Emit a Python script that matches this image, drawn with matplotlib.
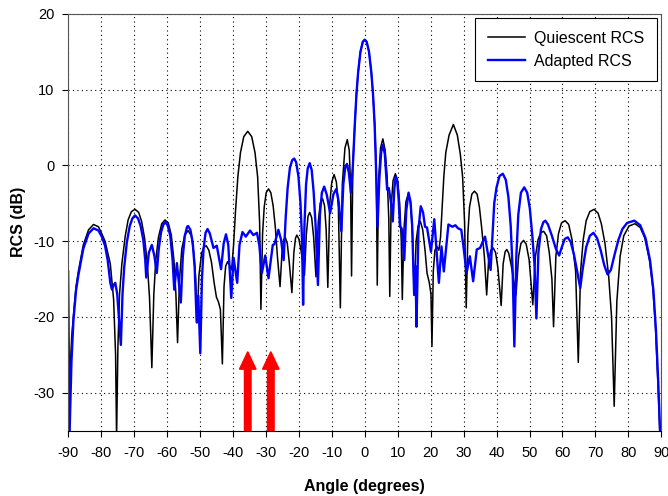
import matplotlib
matplotlib.use('Agg')
import matplotlib.pyplot as plt

plt.rcParams['font.family'] = ['Liberation Sans', 'DejaVu Sans']
plt.rcParams['axes.unicode_minus'] = False

# Quiescent RCS, (angle in degrees, dB)
quiescent = [
    (-90.0, -36), (-89.5, -28), (-88.9, -22.5), (-88.4, -19.9), (-87.6, -16), (-86.9, -14.0),
    (-85.4, -10.5), (-83.8, -8.5), (-82.3, -7.8), (-80.8, -8.1), (-79.8, -9.0), (-78.8, -10.0),
    (-77.2, -13.0), (-76.2, -17.7), (-75.6, -25.0), (-75.3, -36.0),
    (-74.9, -24), (-74.4, -17), (-73.7, -13.0), (-72.7, -9.4), (-71.8, -7.2), (-70.8, -6.1),
    (-69.7, -5.8), (-68.6, -6.2), (-67.7, -7.4), (-66.8, -9.6), (-66.0, -12.8), (-65.3, -17.5),
    (-64.6, -26.7),
    (-64.0, -17), (-63.4, -12.5), (-62.6, -9.5), (-61.6, -7.7), (-60.6, -7.2), (-59.6, -7.6),
    (-58.7, -9.2), (-57.9, -12.5), (-57.3, -17), (-56.8, -23.4),
    (-56.2, -15), (-55.5, -11), (-54.6, -9.2), (-53.6, -8.6), (-52.6, -9.3), (-51.8, -11.8),
    (-51.3, -15), (-50.9, -20.8),
    (-50.3, -14.5), (-49.5, -11.6), (-48.8, -10.8), (-48.1, -10.6), (-47.3, -11.2), (-46.5, -12.8),
    (-45.7, -15.5), (-45.0, -17.4), (-44.4, -18.0), (-43.8, -19.0), (-43.2, -26.2),
    (-42.7, -16), (-42.2, -13.3), (-41.6, -12.7), (-41.0, -13.2), (-40.4, -13.8), (-39.8, -10.5),
    (-39.2, -6.0), (-38.5, -1.5), (-37.7, 1.7), (-36.7, 3.8), (-35.5, 4.5), (-34.3, 3.8),
    (-33.3, 1.7), (-32.5, -1.5), (-31.9, -7.5), (-31.5, -19.0),
    (-31.0, -9), (-30.5, -5.5), (-29.9, -3.6), (-29.2, -3.1), (-28.5, -3.6), (-27.8, -5.3),
    (-27.1, -8.3), (-26.5, -12.0), (-25.7, -16.0),
    (-25.1, -11.5), (-24.6, -9.8), (-24.1, -9.5), (-23.5, -10.3), (-22.9, -12.8), (-22.1, -16.8),
    (-21.5, -11.5), (-21.0, -9.6), (-20.6, -9.2), (-20.0, -9.7), (-19.3, -11.3), (-18.3, -14.5),
    (-17.7, -9), (-17.2, -6.7), (-16.7, -6.2), (-16.1, -6.9), (-15.5, -9.5), (-14.8, -14.7),
    (-14.1, -7.5), (-13.5, -5.0), (-12.8, -4.4), (-12.2, -5.3), (-11.7, -8.5), (-11.2, -16.1),
    (-10.6, -5), (-10.0, -2.2), (-9.3, -1.2), (-8.6, -2.2), (-8.0, -5.5), (-7.4, -18.8),
    (-6.8, -2.5), (-6.0, 2.3), (-5.3, 3.4), (-4.7, 2.0), (-4.3, -2.5), (-4.0, -14.6),
    (-3.6, 0.0), (-3.0, 5.5), (-2.5, 9.5), (-2.0, 12.3), (-1.3, 15.0), (-0.6, 16.3), (0.0, 16.6),
    (0.6, 16.3), (1.3, 15.0), (2.0, 12.3), (2.5, 9.5), (3.0, 5.5), (3.5, 0.0), (3.8, -15.8),
    (4.2, -2), (4.8, 2.3), (5.5, 3.5), (6.2, 2.0), (6.8, -1.5), (7.3, -7), (7.6, -17.3),
    (8.0, -5.5), (8.6, -2.0), (9.3, -1.1), (10.0, -2.0), (10.6, -5), (11.1, -10), (11.4, -17.7),
    (11.9, -8.5), (12.5, -4.8), (13.2, -3.8), (13.9, -5.0), (14.5, -9), (15.0, -17.1),
    (15.6, -10), (16.2, -8), (16.9, -7.4), (17.6, -8.5), (18.3, -11.2), (18.9, -14.2),
    (19.6, -15.5), (20.1, -17), (20.4, -23.9),
    (20.8, -14), (21.3, -11.2), (21.9, -10.7), (22.5, -11.2), (23.0, -9.5), (23.5, -5.5),
    (24.0, -1.5), (24.6, 1.7), (25.6, 4.0), (26.9, 5.4), (28.1, 4.0), (29.0, 1.5), (29.7, -1.5),
    (30.3, -7.5), (30.8, -18.8),
    (31.3, -9), (31.8, -5.5), (32.5, -3.8), (33.3, -3.4), (34.1, -3.8), (34.8, -5.5),
    (35.5, -8.3), (36.3, -12), (37.0, -17.1),
    (37.6, -12.5), (38.3, -11.2), (39.0, -10.9), (39.7, -11.5), (40.4, -13.5), (41.4, -18.5),
    (42.0, -13), (42.6, -11.4), (43.1, -11.1), (43.7, -11.6), (44.5, -13.3), (45.9, -17.1),
    (46.7, -12.0), (47.4, -10.3), (48.2, -9.9), (49.0, -10.4), (49.9, -12.5), (51.0, -18.4),
    (51.8, -12.0), (52.6, -9.8), (53.4, -8.9), (54.3, -8.7), (55.2, -9.3), (56.0, -11.5),
    (56.8, -15), (57.3, -21.3),
    (58.0, -12), (58.8, -9), (59.7, -7.6), (60.8, -7.3), (61.9, -7.8), (62.9, -9.8),
    (64.0, -14), (64.8, -26.0),
    (65.5, -14), (66.3, -9.8), (67.2, -7.3), (68.3, -6.1), (69.6, -5.8), (70.8, -6.3),
    (71.8, -7.7), (72.9, -10.3), (74.0, -14.5), (74.9, -20), (75.7, -31.8),
    (76.5, -18), (77.5, -12), (78.6, -9.3), (80.2, -8.0), (82.0, -7.7), (83.6, -8.2),
    (85.0, -9.6), (86.4, -12.5), (87.4, -16.0), (88.2, -21), (89.0, -29), (89.6, -36),
]

# Adapted RCS, (angle in degrees, dB)
adapted = [
    (-90.0, -14.0), (-89.6, -36.0), (-89.0, -26), (-88.4, -20.5), (-87.6, -16.5), (-86.9, -14.5),
    (-85.4, -11.0), (-83.8, -9.0), (-82.3, -8.3), (-80.8, -8.6), (-79.8, -9.4), (-78.8, -10.6),
    (-78.0, -12.5), (-77.2, -15.5), (-76.7, -16.4), (-76.2, -15.8), (-75.7, -15.5), (-75.1, -17),
    (-74.0, -23.7),
    (-73.5, -17), (-73.0, -13.5), (-72.2, -10.2), (-71.3, -8.0), (-70.5, -7.0), (-69.7, -6.6),
    (-68.8, -7.0), (-68.0, -8.0), (-67.2, -9.8), (-66.6, -12.5), (-66.3, -14.8),
    (-65.5, -11.5), (-64.6, -10.5), (-63.8, -12), (-63.1, -14.2),
    (-62.5, -11), (-61.8, -8.8), (-61.1, -7.8), (-60.5, -7.5), (-59.8, -7.9), (-59.0, -9.3),
    (-58.3, -12.5), (-57.8, -16.4), (-57.0, -12.9), (-55.8, -18.1),
    (-55.2, -12), (-54.6, -9.3), (-53.9, -8.1), (-53.6, -8.0), (-52.9, -8.5), (-52.2, -10.2),
    (-51.6, -13.5), (-51.0, -20.7), (-50.5, -17.2), (-49.9, -24.8),
    (-49.4, -15), (-48.9, -11), (-48.3, -8.9), (-47.7, -8.4), (-47.0, -9.0), (-45.9, -10.9),
    (-44.9, -10.6), (-43.6, -13.7), (-42.8, -10.3), (-42.1, -9.1), (-41.4, -10.5), (-40.5, -17.5),
    (-39.8, -12.2), (-38.7, -15.5), (-38.0, -10.5), (-37.1, -8.8), (-36.1, -9.4), (-34.8, -8.6),
    (-33.8, -9.2), (-32.7, -8.9), (-32.0, -10.5), (-31.2, -14.2), (-30.2, -11.9), (-29.2, -14.9),
    (-27.9, -10.5), (-27.4, -10.4), (-26.2, -8.5), (-25.4, -9.8), (-24.6, -12.5),
    (-24.0, -7), (-23.4, -3), (-22.7, -0.3), (-22.0, 0.7), (-21.4, 0.9), (-20.8, 0.4),
    (-20.1, -1.5), (-19.5, -5), (-19.0, -10), (-18.7, -18.4),
    (-18.3, -8), (-17.8, -2.5), (-17.3, -0.4), (-16.7, 0.3), (-16.1, -0.6), (-15.5, -3.5),
    (-14.9, -8), (-14.2, -15.8),
    (-13.6, -6.5), (-13.0, -3.6), (-12.3, -2.8), (-11.5, -3.9), (-10.5, -6.3), (-9.5, -3.8),
    (-8.6, -3.1), (-7.9, -4.8), (-7.1, -8.7), (-6.5, -2.5), (-5.9, -0.2), (-5.4, 0.2),
    (-4.8, -1.0), (-4.2, -3.6),
    (-3.6, 0.0), (-3.0, 5.5), (-2.5, 9.5), (-2.0, 12.3), (-1.3, 15.0), (-0.6, 16.3), (0.0, 16.6),
    (0.6, 16.3), (1.3, 15.0), (2.0, 12.3), (2.5, 9.5), (3.0, 5.5), (3.4, 0), (3.9, -8.1),
    (4.4, -2), (5.0, 1.8), (5.5, 2.7), (6.1, 1.5), (6.8, -3.2), (7.3, -3.0), (8.0, -5),
    (8.5, -7.4), (9.0, -3), (9.4, -1.5), (9.9, -2.3), (10.3, -4.5), (10.7, -8.1), (11.2, -8.3),
    (12.0, -12.5), (12.6, -6), (13.3, -3.6), (13.9, -4.8), (14.4, -8), (15.0, -17.1),
    (15.4, -13.3), (15.7, -21.3),
    (16.3, -8.5), (17.0, -5.4), (17.7, -6.2), (18.3, -8.1), (18.9, -8.2), (20.1, -11.4),
    (21.1, -7.1), (22.5, -15.5), (23.3, -10.7), (24.0, -14.0), (25.4, -7.8), (26.6, -8.1),
    (27.5, -7.9), (28.3, -8.3), (29.3, -8.5), (29.9, -10.5), (30.9, -14.2), (31.9, -12.0),
    (32.9, -15.3), (34.0, -11.1), (35.0, -10.9), (36.5, -9.4), (38.2, -13.8),
    (39.3, -5.0), (40.0, -2.9), (40.9, -1.4), (41.9, -1.1), (42.8, -1.9), (43.6, -4.2),
    (44.3, -8), (44.9, -14), (45.4, -23.9),
    (46.0, -12), (46.6, -6.5), (47.4, -3.6), (48.4, -2.9), (49.3, -3.6), (50.1, -5.7),
    (50.9, -9.5), (51.5, -13), (52.1, -20.2),
    (52.7, -11.5), (53.5, -8.4), (54.2, -7.5), (54.8, -7.3), (55.6, -7.8), (56.8, -9.3),
    (58.0, -11), (59.0, -11.9), (59.8, -10.8), (60.7, -9.7), (61.6, -9.5), (62.5, -10.1),
    (63.5, -11.8), (64.6, -14.3), (65.4, -16.2),
    (66.2, -13.5), (67.2, -10.8), (68.3, -9.3), (69.4, -8.9), (70.5, -9.6), (71.6, -11.2),
    (72.7, -13.2), (73.7, -14.4), (74.7, -13.8), (75.8, -11.8), (77.0, -9.8), (78.2, -8.4),
    (79.6, -7.6), (81.8, -7.3), (83.6, -7.9), (85.2, -9.6), (86.6, -12.6), (87.6, -16.5),
    (88.4, -22), (89.1, -29), (89.7, -36),
]

# directions of the two jammers (red arrows)
jammer_angles = [-35.5, -28.5]

q_ang, q_db = zip(*quiescent)
a_ang, a_db = zip(*adapted)

fig = plt.figure(figsize=(6.68, 4.96), dpi=100)
ax = fig.add_axes([0.102, 0.132, 0.888, 0.840])

ax.plot(q_ang, q_db, color='black', lw=1.1, label='Quiescent RCS')
ax.plot(a_ang, a_db, color='blue', lw=1.7, label='Adapted RCS')

for a in jammer_angles:
    ax.arrow(a, -35, 0, 10.4, width=2.0, head_width=5.0, head_length=2.3,
             length_includes_head=True, color='red', zorder=5, clip_on=False)

ax.set_xlim(-90, 90)
ax.set_ylim(-35, 20)
ax.set_xticks(range(-90, 91, 10))
ax.set_yticks(range(-30, 21, 10))
ax.tick_params(direction='out', labelsize=10.5, length=4)
ax.tick_params(axis='x', pad=7)
ax.tick_params(axis='y', pad=6)
ax.grid(True, linestyle=(0, (1, 3)), color='black', lw=0.8)
for s in ax.spines.values():
    s.set_color('#555555')
ax.spines['bottom'].set_color('black')

ax.set_xlabel('Angle (degrees)', fontsize=11.5, fontweight='bold', labelpad=14)
ax.set_ylabel('RCS (dB)', fontsize=11.5, fontweight='bold', labelpad=5)

leg = ax.legend(loc='upper right', fontsize=11.5, fancybox=False, framealpha=1,
                edgecolor='black', handlelength=2.3, handletextpad=0.6,
                labelspacing=0.5, borderpad=0.8, borderaxespad=0.25)
leg.get_frame().set_linewidth(0.8)

fig.savefig('out.png', dpi=100)
